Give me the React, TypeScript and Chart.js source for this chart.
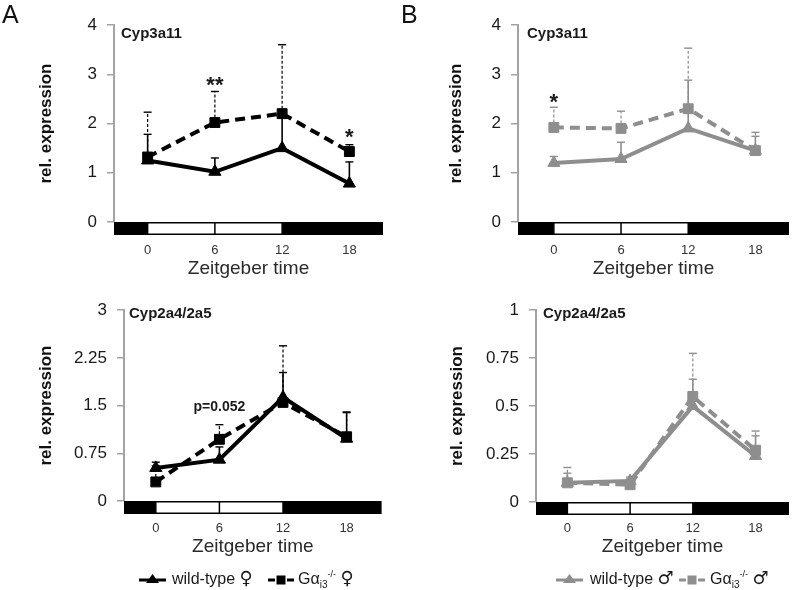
import React, { useEffect, useRef } from "react";
import { Chart, registerables } from "chart.js";
Chart.register(...registerables);

const FONT = "'Liberation Sans', Arial, Helvetica, 'DejaVu Sans', sans-serif";

// Sampling times (Zeitgeber time, h) and axis ticks
const HOURS = [0, 6, 12, 18];
const X_TICKS = [0, 6, 12, 18];
const LIGHTS_ON = 0;
const LIGHTS_OFF = 12;
const MID_LIGHT = 6;

// A top: Cyp3a11, females (black)
const A1_WT = [1.25, 1.02, 1.5, 0.78];
const A1_WT_ERR = [1.78, 1.3, 2.2, 1.22];
const A1_KO = [1.32, 2.02, 2.2, 1.43];
const A1_KO_ERR = [2.23, 2.65, 3.6, 1.57];
const A1_Y_TICKS = [0, 1, 2, 3, 4];
const A1_NOTES = [
  { x: 6, y: 2.9, text: "**", kind: "star" },
  { x: 18, y: 1.85, text: "*", kind: "star" },
];

// B top: Cyp3a11, males (grey)
const B1_WT = [1.2, 1.28, 1.9, 1.45];
const B1_WT_ERR = [1.33, 1.62, 2.88, 1.74];
const B1_KO = [1.92, 1.9, 2.3, 1.45];
const B1_KO_ERR = [2.33, 2.25, 3.53, 1.82];
const B1_Y_TICKS = [0, 1, 2, 3, 4];
const B1_NOTES = [{ x: 0, y: 2.56, text: "*", kind: "star" }];

// A bottom: Cyp2a4/2a5, females
const A2_WT = [0.52, 0.65, 1.63, 0.98];
const A2_WT_ERR = [0.61, 0.85, 2.02, 1.4];
const A2_KO = [0.3, 0.97, 1.55, 1.01];
const A2_KO_ERR = [0.55, 1.2, 2.44, 1.39];
const A2_Y_TICKS = [0, 0.75, 1.5, 2.25, 3];
const A2_NOTES = [{ x: 6, y: 1.48, text: "p=0.052", kind: "text" }];

// B bottom: Cyp2a4/2a5, males
const B2_WT = [0.1, 0.11, 0.5, 0.24];
const B2_WT_ERR = [0.15, 0.13, 0.64, 0.345];
const B2_KO = [0.1, 0.09, 0.55, 0.27];
const B2_KO_ERR = [0.18, 0.12, 0.775, 0.37];
const B2_Y_TICKS = [0, 0.25, 0.5, 0.75, 1];
const B2_NOTES: any[] = [];

const BLACK = "#000000";
const GREY = "#8e8e8e";
const AXIS = "#a3a3a3";
const TEXT = "#1a1a1a";

function Panel(p: any) {
  const ref = useRef<HTMLCanvasElement>(null);
  useEffect(() => {
    const canvas = ref.current!;
    const ldBar = {
      id: "ldBar",
      afterDraw(chart: any) {
        const { ctx, chartArea } = chart;
        const xs = chart.scales.x;
        const px = (v: number) => xs.getPixelForValue(v);
        const y0 = chartArea.bottom;
        const h = 13;
        ctx.save();
        ctx.fillStyle = "#000";
        ctx.fillRect(px(p.xMin), y0, px(LIGHTS_ON) - px(p.xMin), h);
        ctx.fillRect(px(LIGHTS_OFF), y0, px(p.xMax) - px(LIGHTS_OFF), h);
        ctx.fillStyle = "#fff";
        ctx.fillRect(px(LIGHTS_ON), y0, px(LIGHTS_OFF) - px(LIGHTS_ON), h);
        ctx.strokeStyle = "#000";
        ctx.lineWidth = 1.5;
        ctx.strokeRect(px(LIGHTS_ON), y0 + 0.75, px(LIGHTS_OFF) - px(LIGHTS_ON), h - 1.5);
        ctx.beginPath();
        ctx.moveTo(px(MID_LIGHT), y0);
        ctx.lineTo(px(MID_LIGHT), y0 + h);
        ctx.stroke();
        ctx.restore();
      },
    };
    const errBars = {
      id: "errBars",
      beforeDatasetsDraw(chart: any) {
        const { ctx } = chart;
        const xs = chart.scales.x;
        const ys = chart.scales.y;
        const draw = (vals: number[], errs: number[], dashed: boolean) => {
          vals.forEach((v, i) => {
            const x = xs.getPixelForValue(HOURS[i]);
            const y1 = ys.getPixelForValue(v);
            const y2 = ys.getPixelForValue(errs[i]);
            ctx.strokeStyle = p.color;
            ctx.lineWidth = dashed ? 1.2 : 1.6;
            ctx.setLineDash(dashed ? [3, 2] : []);
            ctx.beginPath();
            ctx.moveTo(x, y1);
            ctx.lineTo(x, y2);
            ctx.stroke();
            ctx.setLineDash([]);
            ctx.lineWidth = 1.4;
            ctx.beginPath();
            ctx.moveTo(x - 4, y2);
            ctx.lineTo(x + 4, y2);
            ctx.stroke();
          });
        };
        ctx.save();
        draw(p.ko, p.koErr, true);
        draw(p.wt, p.wtErr, false);
        ctx.restore();
      },
    };
    const labels = {
      id: "labels",
      afterDraw(chart: any) {
        const { ctx } = chart;
        const xs = chart.scales.x;
        const ys = chart.scales.y;
        ctx.save();
        ctx.fillStyle = TEXT;
        ctx.font = `bold 15px ${FONT}`;
        ctx.textAlign = "left";
        ctx.textBaseline = "alphabetic";
        ctx.fillText(p.title, p.titleX, p.titleY);
        p.notes.forEach((n: any) => {
          const x = xs.getPixelForValue(n.x);
          const y = ys.getPixelForValue(n.y);
          ctx.textAlign = "center";
          if (n.kind === "star") {
            ctx.font = `bold 22px ${FONT}`;
            ctx.textBaseline = "alphabetic";
            ctx.fillText(n.text, x, y + 0.58 * 22);
          } else {
            ctx.font = `bold 14px ${FONT}`;
            ctx.textBaseline = "middle";
            ctx.fillText(n.text, x, y);
          }
        });
        ctx.restore();
      },
    };
    const chart = new Chart(canvas, {
      type: "line",
      data: {
        datasets: [
          {
            label: "wild-type",
            data: HOURS.map((h, i) => ({ x: h, y: p.wt[i] })),
            borderColor: p.color,
            backgroundColor: p.color,
            borderWidth: 4,
            pointStyle: "triangle",
            pointRadius: 7,
            pointBorderWidth: 1,
          },
          {
            label: "knockout",
            data: HOURS.map((h, i) => ({ x: h, y: p.ko[i] })),
            borderColor: p.color,
            backgroundColor: p.color,
            borderWidth: 4,
            borderDash: [10, 6],
            pointStyle: "rect",
            pointRadius: 7,
            pointBorderWidth: 1,
          },
        ],
      },
      options: {
        responsive: false,
        animation: false,
        devicePixelRatio: 1,
        layout: {
          padding: { left: 0, top: p.plotTop, right: p.width - p.plotRight, bottom: 0 },
        },
        plugins: { legend: { display: false }, tooltip: { enabled: false } },
        scales: {
          x: {
            type: "linear",
            position: "bottom",
            min: p.xMin,
            max: p.xMax,
            afterBuildTicks: (s: any) => {
              s.ticks = X_TICKS.map((v) => ({ value: v }));
            },
            afterFit: (s: any) => {
              s.height = p.height - p.plotBottom;
            },
            grid: { display: false, drawTicks: false },
            border: { display: false },
            ticks: {
              autoSkip: false,
              maxRotation: 0,
              padding: p.xTickCenter - p.plotBottom - 7.8,
              font: { family: FONT, size: 13 },
              color: "#333",
              callback: (v: any) => String(v),
            },
            title: {
              display: true,
              text: "Zeitgeber time",
              color: "#2a2a2a",
              font: { family: FONT, size: 19 },
              padding: { top: 0, bottom: p.height - p.xTitleCenter - 11.4 },
            },
          },
          y: {
            min: 0,
            max: p.yMax,
            afterBuildTicks: (s: any) => {
              s.ticks = p.yTicks.map((v: number) => ({ value: v }));
            },
            afterFit: (s: any) => {
              s.width = p.plotLeft;
            },
            grid: {
              drawOnChartArea: false,
              drawTicks: true,
              tickLength: 7,
              color: AXIS,
              lineWidth: 1.5,
            },
            border: { display: true, color: AXIS, width: 2 },
            ticks: {
              padding: 10,
              font: { family: FONT, size: 17 },
              color: TEXT,
              callback: (v: any) => String(v),
            },
            title: {
              display: true,
              text: "rel. expression",
              color: "#111",
              font: { family: FONT, size: 17, weight: "bold" },
              padding: { top: p.yTitleCenter - 10.2, bottom: 0 },
            },
          },
        },
      } as any,
      plugins: [ldBar, errBars, labels],
    });
    return () => chart.destroy();
  }, []);
  return (
    <canvas
      ref={ref}
      width={p.width}
      height={p.height}
      style={{ position: "absolute", left: p.left, top: p.top, width: p.width, height: p.height }}
    />
  );
}

function WtSymbol({ color, left }: any) {
  return (
    <svg width={27} height={16} style={{ position: "absolute", left, top: 571 }}>
      <line x1={0} y1={9} x2={27} y2={9} stroke={color} strokeWidth={3} />
      <polygon points="13.5,3 20,12 7,12" fill={color} />
    </svg>
  );
}

function KoSymbol({ color, left }: any) {
  return (
    <svg width={26} height={16} style={{ position: "absolute", left, top: 571 }}>
      <line x1={0} y1={9} x2={7} y2={9} stroke={color} strokeWidth={3} />
      <line x1={19} y1={9} x2={26} y2={9} stroke={color} strokeWidth={3} />
      <rect x={8.5} y={4.5} width={9} height={9} fill={color} />
    </svg>
  );
}

const legendText: any = {
  position: "absolute",
  top: 570.5,
  fontSize: 16,
  lineHeight: "16px",
  color: "#1a1a1a",
  whiteSpace: "nowrap",
  fontFamily: FONT,
};
const subStyle: any = { fontSize: 10, verticalAlign: "-4px", lineHeight: 0 };
const supStyle: any = { fontSize: 9, verticalAlign: "7px", lineHeight: 0 };
const sexStyle: any = { fontFamily: "'DejaVu Sans'", fontSize: 18, lineHeight: 0 };

export default function App() {
  return (
    <div
      style={{
        position: "fixed",
        left: 0,
        top: 0,
        width: 797,
        height: 590,
        background: "#fff",
        overflow: "hidden",
        fontFamily: FONT,
      }}
    >
      <Panel
        left={0} top={0} width={397} height={290}
        plotLeft={114} plotRight={383} plotTop={25} plotBottom={222}
        xMin={-3} xMax={21} yMax={4} yTicks={A1_Y_TICKS}
        color={BLACK} wt={A1_WT} wtErr={A1_WT_ERR} ko={A1_KO} koErr={A1_KO_ERR}
        title="Cyp3a11" titleX={121} titleY={38}
        yTitleCenter={46} xTickCenter={250.5} xTitleCenter={268.5} notes={A1_NOTES}
      />
      <Panel
        left={400} top={0} width={397} height={290}
        plotLeft={118} plotRight={389.5} plotTop={25} plotBottom={222}
        xMin={-3.2} xMax={21} yMax={4} yTicks={B1_Y_TICKS}
        color={GREY} wt={B1_WT} wtErr={B1_WT_ERR} ko={B1_KO} koErr={B1_KO_ERR}
        title="Cyp3a11" titleX={127} titleY={38}
        yTitleCenter={56} xTickCenter={250.5} xTitleCenter={268.5} notes={B1_NOTES}
      />
      <Panel
        left={0} top={290} width={397} height={300}
        plotLeft={124} plotRight={381.6} plotTop={13} plotBottom={211}
        xMin={-3} xMax={21.3} yMax={3} yTicks={A2_Y_TICKS}
        color={BLACK} wt={A2_WT} wtErr={A2_WT_ERR} ko={A2_KO} koErr={A2_KO_ERR}
        title="Cyp2a4/2a5" titleX={129} titleY={28}
        yTitleCenter={46} xTickCenter={238} xTitleCenter={256.5} notes={A2_NOTES}
      />
      <Panel
        left={400} top={290} width={397} height={300}
        plotLeft={136} plotRight={397} plotTop={13} plotBottom={212}
        xMin={-3} xMax={21.2} yMax={1} yTicks={B2_Y_TICKS}
        color={GREY} wt={B2_WT} wtErr={B2_WT_ERR} ko={B2_KO} koErr={B2_KO_ERR}
        title="Cyp2a4/2a5" titleX={143} titleY={28}
        yTitleCenter={57} xTickCenter={238} xTitleCenter={256.5} notes={B2_NOTES}
      />

      <div style={{ position: "absolute", left: 2, top: 2, fontSize: 25, lineHeight: "25px", color: "#111" }}>A</div>
      <div style={{ position: "absolute", left: 401, top: 2, fontSize: 25, lineHeight: "25px", color: "#111" }}>B</div>

      <WtSymbol color={BLACK} left={139} />
      <div style={{ ...legendText, left: 172 }}>
        wild-type <span style={sexStyle}>♀</span>
      </div>
      <KoSymbol color={BLACK} left={268} />
      <div style={{ ...legendText, left: 298 }}>
        Gα<span style={subStyle}>i3</span>
        <span style={supStyle}>-/-</span> <span style={sexStyle}>♀</span>
      </div>

      <WtSymbol color={GREY} left={556} />
      <div style={{ ...legendText, left: 590 }}>
        wild-type <span style={sexStyle}>♂</span>
      </div>
      <KoSymbol color={GREY} left={679} />
      <div style={{ ...legendText, left: 710 }}>
        Gα<span style={subStyle}>i3</span>
        <span style={supStyle}>-/-</span> <span style={sexStyle}>♂</span>
      </div>
    </div>
  );
}
